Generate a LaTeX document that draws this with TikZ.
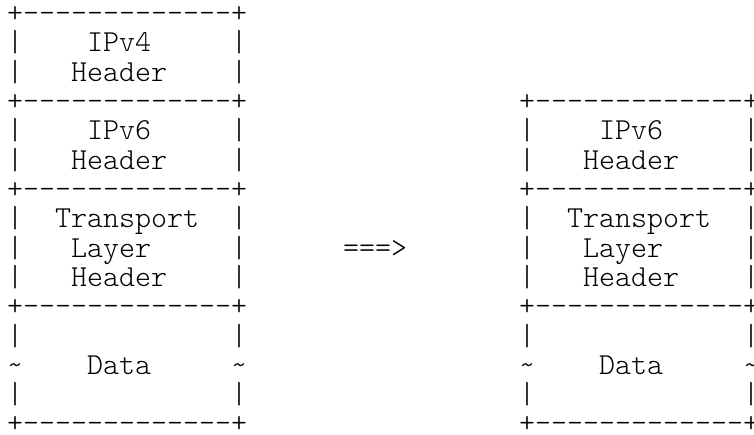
\documentclass[tikz,border=0pt]{standalone}
\usepackage{fontspec}
\newfontfamily\asciimono{Latin Modern Mono Light}
\begin{document}
\begin{tikzpicture}[x=1pt,y=1pt,
  t/.style={anchor=base west, inner sep=0pt, outer sep=0pt,
    font=\asciimono\fontsize{30.48}{32}\selectfont}]
\useasboundingbox (0,0) rectangle (754,434);
% column c, row r -> (7+16c, 411.3-29.3r)
\newcommand{\cell}[4]{\node[t] (#1) at ({7+16*#2},{411.3-29.3*#3}) {#4};}
% borders
\foreach \r in {0,3,6,10,14} { \cell{lb\r}{0}{\r}{+-------------+} }
\foreach \r in {3,6,10,14} { \cell{rb\r}{32}{\r}{+-------------+} }
% side bars
\foreach \r in {1,2,4,5,7,8,9,11,13} {
  \cell{ll\r}{0}{\r}{|} \cell{lr\r}{14}{\r}{|}
}
\foreach \r in {4,5,7,8,9,11,13} {
  \cell{rl\r}{32}{\r}{|} \cell{rr\r}{46}{\r}{|}
}
% tildes
\cell{lt1}{0}{12}{\textasciitilde}
\cell{lt2}{14}{12}{\textasciitilde}
\cell{rt1}{32}{12}{\textasciitilde}
\cell{rt2}{46}{12}{\textasciitilde}
% labels left
\cell{ipv4}{5}{1}{IPv4}
\cell{h4}{4}{2}{Header}
\cell{ipv6l}{5}{4}{IPv6}
\cell{h6l}{4}{5}{Header}
\cell{trl}{3}{7}{Transport}
\cell{lal}{4}{8}{Layer}
\cell{hhl}{4}{9}{Header}
\cell{dl}{5}{12}{Data}
% arrow
\cell{arr}{21}{8}{===>}
% labels right
\cell{ipv6r}{37}{4}{IPv6}
\cell{h6r}{36}{5}{Header}
\cell{trr}{35}{7}{Transport}
\cell{lar}{36}{8}{Layer}
\cell{hhr}{36}{9}{Header}
\cell{dr}{37}{12}{Data}
\end{tikzpicture}
\end{document}
